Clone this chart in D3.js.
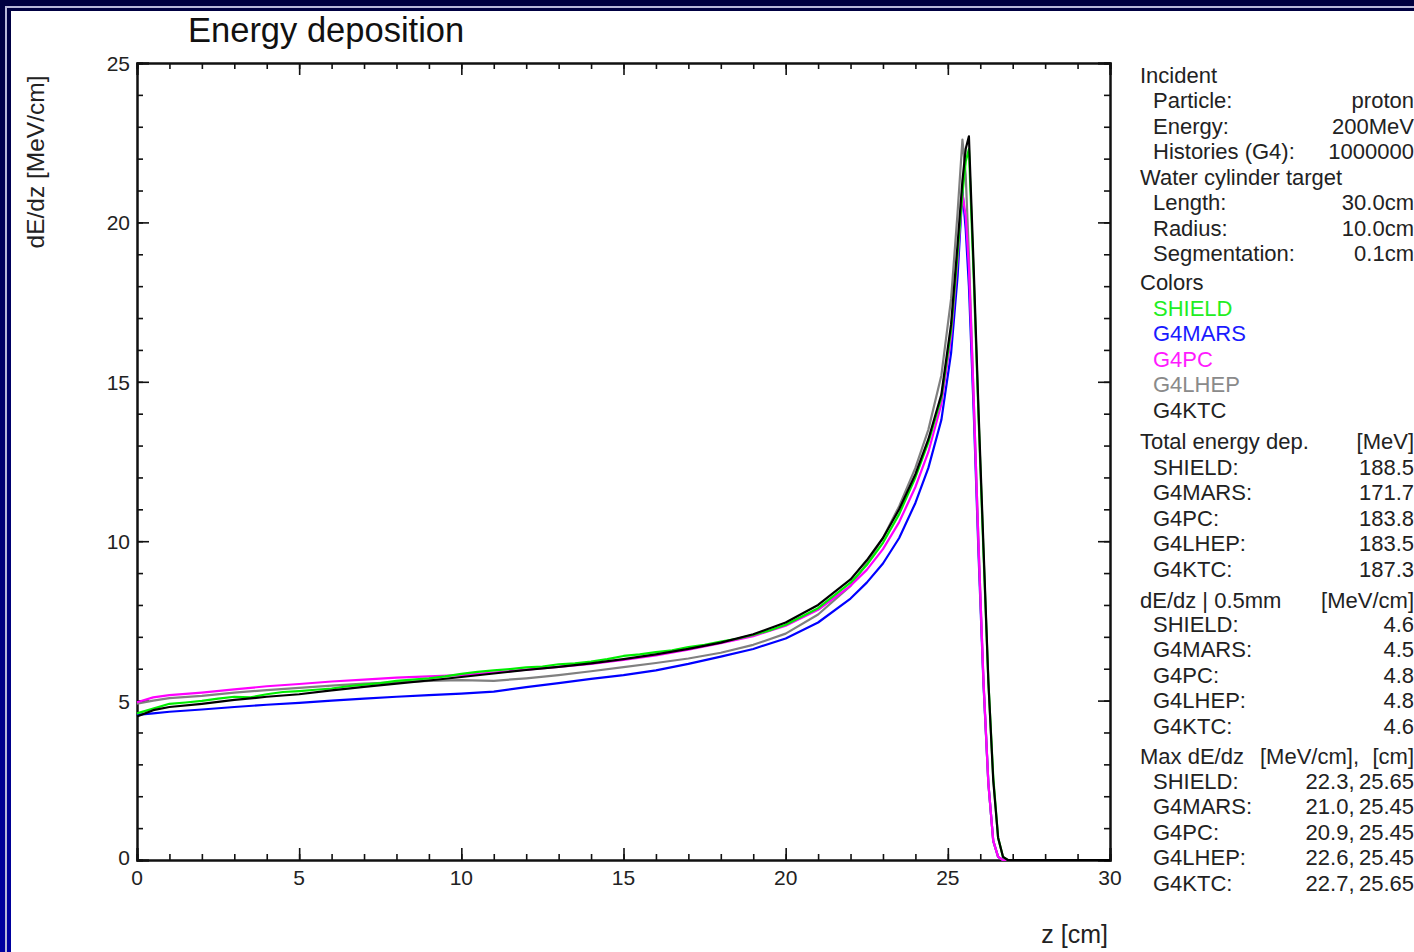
<!DOCTYPE html>
<html>
<head>
<meta charset="utf-8">
<script src="https://cdn.jsdelivr.net/npm/d3@7"></script>
<style>
  html, body { margin: 0; padding: 0; background: #fff; }
  svg { display: block; font-family: "Liberation Sans", Arial, sans-serif; }
</style>
</head>
<body>
<svg id="chart" width="1414" height="952"></svg>
<script>
// Energy deposition of 200 MeV protons in water, five physics lists

const zGrid = [0, 0.5, 1, 2, 3, 4, 5, 6, 7, 8, 9, 10, 11, 12, 13, 14, 15, 16, 17, 18, 19, 20,
    21, 22, 22.5, 23, 23.5, 24, 24.4, 24.8, 25.1, 25.3, 25.45, 25.55, 25.65, 25.8, 25.95,
    26.1, 26.25, 26.4, 26.55, 26.7, 26.85, 27, 30];

// SHIELD is a bit noisy, so it gets its own finer grid
const shieldZ = [0, 0.5, 1, 1.5, 2, 2.5, 3, 3.5, 4, 4.5, 5, 5.5, 6, 6.5, 7, 7.5, 8, 8.5, 9, 9.5, 10, 10.5, 11,
    11.5, 12, 12.5, 13, 13.5, 14, 14.5, 15, 15.5, 16, 16.5, 17, 17.5, 18, 18.5, 19, 19.5, 20,
    21, 22, 22.5, 23, 23.5, 24, 24.4, 24.8, 25.1, 25.3, 25.45, 25.55, 25.65, 25.8, 25.95,
    26.1, 26.25, 26.4, 26.55, 26.7, 26.85, 27, 30];
const shieldValues = [4.6, 4.75, 4.9, 4.94, 4.99, 5.06, 5.12, 5.1, 5.2, 5.27, 5.3, 5.34, 5.38, 5.45, 5.5, 5.55, 5.62, 5.66, 5.7, 5.76, 5.84, 5.9, 5.95,
    5.99, 6.04, 6.07, 6.14, 6.17, 6.22, 6.3, 6.4, 6.45, 6.52, 6.58, 6.68, 6.75, 6.85, 6.94, 7.06, 7.2, 7.38,
    7.9, 8.7, 9.25, 9.95, 10.85, 12.0, 13.1, 14.5, 16.6, 19.0, 20.9, 21.9, 22.3, 18.2, 13.8,
    9.6, 5.6, 2.6, 0.7, 0.1, 0, 0, 0];
const g4marsValues = [4.55, 4.6, 4.65, 4.72, 4.8, 4.87, 4.93, 5.0, 5.06, 5.12, 5.17, 5.22, 5.28, 5.42, 5.55, 5.68, 5.8, 5.95, 6.15, 6.38, 6.62, 6.95,
    7.45, 8.2, 8.7, 9.3, 10.1, 11.2, 12.3, 13.8, 15.9, 18.3, 21.0, 19.8, 18.0, 14.0, 9.5,
    5.5, 2.4, 0.6, 0.1, 0, 0, 0, 0];
const g4pcValues = [4.95, 5.1, 5.17, 5.25, 5.35, 5.45, 5.52, 5.6, 5.66, 5.72, 5.76, 5.8, 5.88, 5.97, 6.06, 6.15, 6.28, 6.42, 6.6, 6.8, 7.02, 7.35,
    7.85, 8.6, 9.1, 9.75, 10.6, 11.7, 12.8, 14.3, 16.4, 18.8, 20.9, 20.2, 18.6, 14.4, 9.8,
    5.6, 2.4, 0.6, 0.1, 0, 0, 0, 0];
const g4lhepValues = [4.9, 5.0, 5.08, 5.15, 5.25, 5.33, 5.4, 5.47, 5.53, 5.57, 5.62, 5.64, 5.62, 5.7, 5.8, 5.92, 6.05, 6.18, 6.32, 6.5, 6.75, 7.1,
    7.7, 8.6, 9.3, 10.1, 11.1, 12.3, 13.5, 15.2, 17.6, 20.3, 22.6, 21.5, 19.0, 14.4, 9.8,
    5.6, 2.4, 0.6, 0.1, 0, 0, 0, 0];
const g4ktcValues = [4.5, 4.7, 4.8, 4.9, 5.02, 5.12, 5.2, 5.32, 5.43, 5.53, 5.63, 5.74, 5.85, 5.96, 6.06, 6.17, 6.3, 6.45, 6.62, 6.82, 7.08, 7.45,
    8.0, 8.8, 9.4, 10.1, 11.0, 12.1, 13.2, 14.6, 16.8, 19.3, 21.3, 22.3, 22.7, 18.5, 14.0,
    9.8, 5.6, 2.5, 0.7, 0.1, 0, 0, 0];

const seriesNames = ["SHIELD", "G4MARS", "G4PC", "G4LHEP", "G4KTC"];
const seriesColors = ["#00ee00", "#0000ff", "#ff00ff", "#808080", "#000000"];
const legendColors = ["#22ee22", "#1a1aff", "#ff1aff", "#8a8a8a", "#222222"];
const seriesZ = [shieldZ, zGrid, zGrid, zGrid, zGrid];
const seriesValues = [shieldValues, g4marsValues, g4pcValues, g4lhepValues, g4ktcValues];
// draw order: back to front
const drawOrder = [1, 3, 2, 0, 4];

const xTicks = [0, 5, 10, 15, 20, 25, 30];
const yTicks = [0, 5, 10, 15, 20, 25];

// right hand info panel: [label, value, indent]
const incidentInfo = [["Incident", "", 0], ["Particle:", "proton", 1], ["Energy:", "200MeV", 1], ["Histories (G4):", "1000000", 1]];
const targetInfo = [["Water cylinder target", "", 0], ["Length:", "30.0cm", 1], ["Radius:", "10.0cm", 1], ["Segmentation:", "0.1cm", 1]];
const totalDep = ["188.5", "171.7", "183.8", "183.5", "187.3"];
const dedzHalfMm = ["4.6", "4.5", "4.8", "4.8", "4.6"];
const maxDedz = ["22.3,\u200925.65", "21.0,\u200925.45", "20.9,\u200925.45", "22.6,\u200925.45", "22.7,\u200925.65"];

const width = 1414, height = 952;
const plot = { left: 137, right: 1110, top: 63, bottom: 860 };

const svg = d3.select("#chart");

// frame gradient
const defs = svg.append("defs");
const grad = defs.append("linearGradient")
    .attr("id", "frameGrad")
    .attr("x1", 0).attr("y1", 0).attr("x2", 0).attr("y2", 1);
grad.append("stop").attr("offset", "0%").attr("stop-color", "#000040");
grad.append("stop").attr("offset", "100%").attr("stop-color", "#0000a0");

svg.append("rect").attr("width", width).attr("height", height).attr("fill", "url(#frameGrad)");
svg.append("rect").attr("x", 6).attr("y", 7).attr("width", width).attr("height", height)
    .attr("fill", "none").attr("stroke", "#b8b8d8").attr("stroke-width", 2);
svg.append("rect").attr("x", 11).attr("y", 11).attr("width", width).attr("height", height)
    .attr("fill", "#ffffff");

const x = d3.scaleLinear().domain([0, 30]).range([plot.left, plot.right]);
const y = d3.scaleLinear().domain([0, 25]).range([plot.bottom, plot.top]);

// axes with inward ticks on all four sides
const axisStroke = "#111";
const gx = svg.append("g").attr("transform", `translate(0,${plot.bottom})`);
gx.call(d3.axisTop(x).tickValues(d3.range(0, 31, 1)).tickSize(6).tickFormat(""));
gx.append("g").call(d3.axisTop(x).tickValues(xTicks).tickSize(12).tickFormat(""));
const gxTop = svg.append("g").attr("transform", `translate(0,${plot.top})`);
gxTop.call(d3.axisBottom(x).tickValues(d3.range(0, 31, 1)).tickSize(6).tickFormat(""));
gxTop.append("g").call(d3.axisBottom(x).tickValues(xTicks).tickSize(12).tickFormat(""));
const gy = svg.append("g").attr("transform", `translate(${plot.left},0)`);
gy.call(d3.axisRight(y).tickValues(d3.range(0, 26, 1)).tickSize(6).tickFormat(""));
gy.append("g").call(d3.axisRight(y).tickValues(yTicks).tickSize(12).tickFormat(""));
const gyRight = svg.append("g").attr("transform", `translate(${plot.right},0)`);
gyRight.call(d3.axisLeft(y).tickValues(d3.range(0, 26, 1)).tickSize(6).tickFormat(""));
gyRight.append("g").call(d3.axisLeft(y).tickValues(yTicks).tickSize(12).tickFormat(""));

svg.selectAll(".domain").attr("stroke", axisStroke).attr("stroke-width", 2);
svg.selectAll(".tick line").attr("stroke", axisStroke).attr("stroke-width", 1.6);

// tick labels
svg.append("g").selectAll("text").data(xTicks).enter().append("text")
    .attr("x", d => x(d)).attr("y", plot.bottom + 25)
    .attr("text-anchor", "middle").attr("font-size", 21).attr("fill", "#222")
    .text(d => d);
svg.append("g").selectAll("text").data(yTicks).enter().append("text")
    .attr("x", plot.left - 7).attr("y", d => y(d) + (d === 0 ? 5 : 8))
    .attr("text-anchor", "end").attr("font-size", 21).attr("fill", "#222")
    .text(d => d);

// curves
drawOrder.forEach(k => {
    const zs = seriesZ[k];
    const line = d3.line()
        .x((d, i) => x(zs[i]))
        .y(d => y(d));
    svg.append("path")
        .attr("d", line(seriesValues[k]))
        .attr("fill", "none")
        .attr("stroke", seriesColors[k])
        .attr("stroke-width", 2.2)
        .attr("stroke-linejoin", "round");
});

// titles
svg.append("text").attr("x", 188).attr("y", 42).attr("font-size", 34.5).attr("fill", "#111")
    .text("Energy deposition");
svg.append("text").attr("x", 1108).attr("y", 943).attr("text-anchor", "end")
    .attr("font-size", 25).attr("fill", "#222").text("z [cm]");
svg.append("text").attr("transform", "translate(44,162) rotate(-90)")
    .attr("text-anchor", "middle").attr("font-size", 24.5).attr("fill", "#222")
    .text("dE/dz [MeV/cm]");

// info panel
const panel = svg.append("g").attr("font-size", 22).attr("fill", "#222");
const labelX = 1140, indentX = 1153, valueX = 1414;
const rowStep = 25.4;

function addRow(yc, label, value, indent, color) {
    panel.append("text").attr("x", indent ? indentX : labelX).attr("y", yc + 8)
        .attr("fill", color || "#222").text(label);
    if (value) {
        panel.append("text").attr("x", valueX).attr("y", yc + 8)
            .attr("text-anchor", "end").text(value);
    }
}

incidentInfo.forEach((r, i) => addRow(75 + i * rowStep, r[0], r[1], r[2]));
targetInfo.forEach((r, i) => addRow(177 + i * rowStep, r[0], r[1], r[2]));

addRow(282, "Colors", "", 0);
seriesNames.forEach((n, i) => addRow(308 + i * rowStep, n, "", 1, legendColors[i]));

addRow(441, "Total energy dep.", "[MeV]", 0);
seriesNames.forEach((n, i) => addRow(467 + i * rowStep, n + ":", totalDep[i], 1));

addRow(600, "dE/dz | 0.5mm", "[MeV/cm]", 0);
seriesNames.forEach((n, i) => addRow(624 + i * rowStep, n + ":", dedzHalfMm[i], 1));

addRow(756, "Max dE/dz", "", 0);
panel.append("text").attr("x", 1260).attr("y", 764).text("[MeV/cm],");
panel.append("text").attr("x", valueX).attr("y", 764).attr("text-anchor", "end").text("[cm]");
seriesNames.forEach((n, i) => addRow(781 + i * rowStep, n + ":", maxDedz[i], 1));
</script>
</body>
</html>
